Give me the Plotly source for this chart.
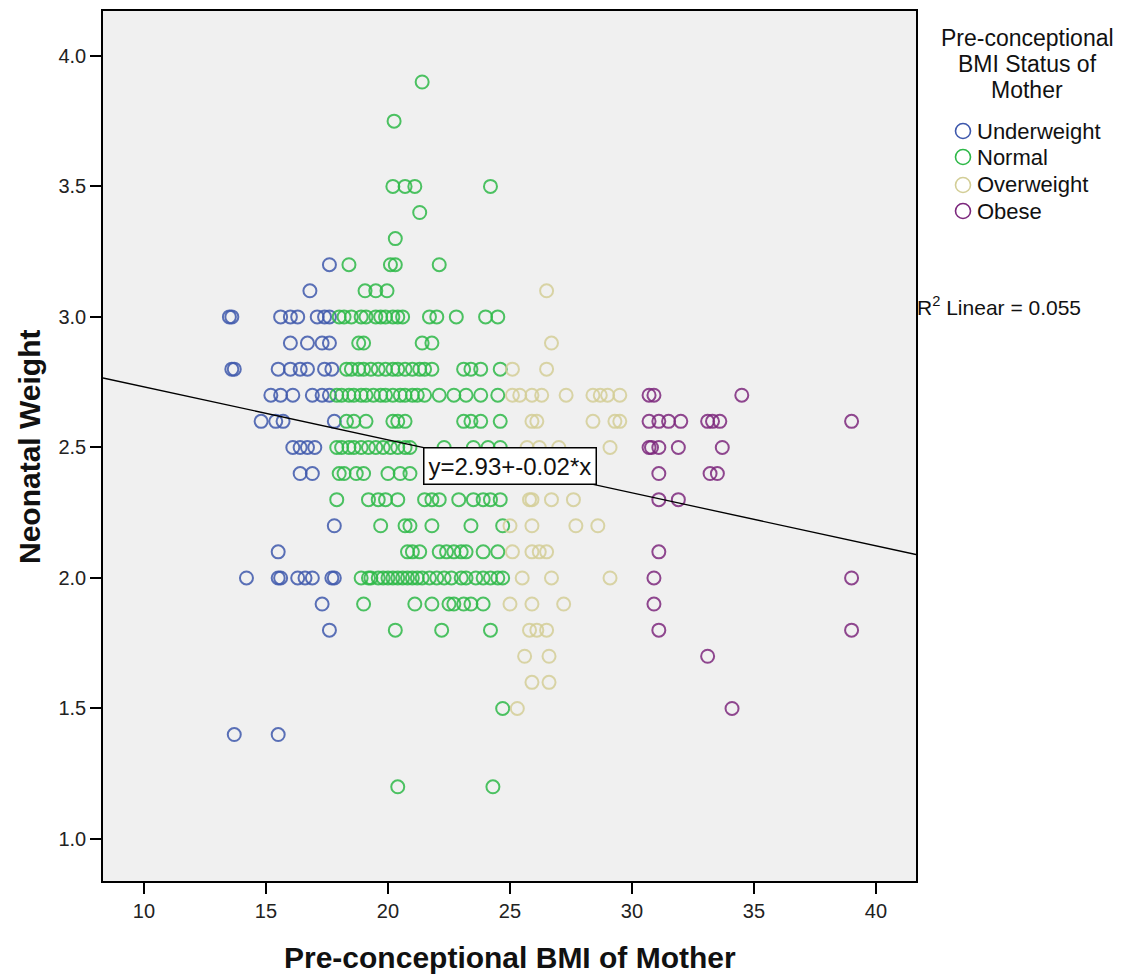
import plotly.graph_objects as go
import numpy as np

# ---- data ----
under_x = [17.6, 16.8,
           13.5, 13.6, 15.6, 16.0, 16.3, 17.1, 17.4, 17.6,
           16.0, 16.7, 17.3, 17.6,
           13.6, 13.7, 15.5, 16.0, 16.4, 16.7, 17.4, 17.7,
           15.2, 15.6, 16.1, 16.9, 17.3, 17.6,
           14.8, 15.4, 15.7, 17.8,
           16.1, 16.4, 16.7, 17.0,
           16.4, 16.9,
           17.8, 15.5,
           14.2, 15.5, 15.6, 16.3, 16.6, 16.9, 17.7, 17.8,
           17.3, 17.6, 13.7, 15.5]
under_y = [3.2, 3.1,
           3.0, 3.0, 3.0, 3.0, 3.0, 3.0, 3.0, 3.0,
           2.9, 2.9, 2.9, 2.9,
           2.8, 2.8, 2.8, 2.8, 2.8, 2.8, 2.8, 2.8,
           2.7, 2.7, 2.7, 2.7, 2.7, 2.7,
           2.6, 2.6, 2.6, 2.6,
           2.5, 2.5, 2.5, 2.5,
           2.4, 2.4,
           2.2, 2.1,
           2.0, 2.0, 2.0, 2.0, 2.0, 2.0, 2.0, 2.0,
           1.9, 1.8, 1.4, 1.4]

normal_x = [21.4, 20.25, 20.2, 20.7, 21.1, 24.2, 21.3, 20.3,
            18.4, 20.1, 20.3, 22.1,
            19.06, 19.5, 19.96,
            18.0, 18.2, 18.5, 18.9, 19.1, 19.5, 19.7, 19.9, 20.2, 20.4, 20.6, 21.7, 22.0, 22.8, 24.0, 24.5,
            18.8, 19.0, 21.4, 21.8,
            18.3, 18.5, 18.8, 19.0, 19.3, 19.6, 19.9, 20.2, 20.4, 20.7, 21.0, 21.3, 21.5, 21.8, 23.1, 23.4, 23.8, 24.6,
            17.9, 18.1, 18.4, 18.6, 18.9, 19.1, 19.4, 19.7, 19.9, 20.2, 20.5, 20.7, 21.0, 21.2, 21.5, 22.1, 22.7, 23.2, 23.8, 24.5,
            18.3, 18.6, 19.1, 20.2, 20.4, 20.7, 23.1, 23.4, 23.8, 24.6,
            17.9, 18.1, 18.4, 18.6, 18.9, 19.2, 19.5, 19.8, 20.1, 20.4, 20.7, 20.9, 22.3, 23.5, 24.1, 24.6,
            18.0, 18.2, 18.7, 19.0, 20.0, 20.5, 20.9,
            17.9, 19.2, 19.6, 19.9, 20.4, 21.5, 21.8, 22.1, 22.9, 23.5, 23.9, 24.2, 24.6,
            19.7, 20.7, 20.9, 21.8, 23.4, 24.7,
            20.8, 21.0, 21.3, 22.1, 22.4, 22.7, 23.0, 23.2, 23.9, 24.5,
            18.9, 19.2, 19.3, 19.6, 19.8, 20.0, 20.2, 20.4, 20.6, 20.8, 21.0, 21.2, 21.4, 21.7, 22.0, 22.3, 22.6, 23.0, 23.2, 23.6, 23.9, 24.2, 24.5, 24.7,
            19.0, 21.1, 21.8, 22.5, 22.7, 23.1, 23.4, 23.9,
            20.3, 22.2, 24.2,
            24.7, 20.4, 24.3]
normal_y = [3.9, 3.75, 3.5, 3.5, 3.5, 3.5, 3.4, 3.3,
            3.2, 3.2, 3.2, 3.2,
            3.1, 3.1, 3.1,
            3.0, 3.0, 3.0, 3.0, 3.0, 3.0, 3.0, 3.0, 3.0, 3.0, 3.0, 3.0, 3.0, 3.0, 3.0, 3.0,
            2.9, 2.9, 2.9, 2.9,
            2.8, 2.8, 2.8, 2.8, 2.8, 2.8, 2.8, 2.8, 2.8, 2.8, 2.8, 2.8, 2.8, 2.8, 2.8, 2.8, 2.8, 2.8,
            2.7, 2.7, 2.7, 2.7, 2.7, 2.7, 2.7, 2.7, 2.7, 2.7, 2.7, 2.7, 2.7, 2.7, 2.7, 2.7, 2.7, 2.7, 2.7, 2.7,
            2.6, 2.6, 2.6, 2.6, 2.6, 2.6, 2.6, 2.6, 2.6, 2.6,
            2.5, 2.5, 2.5, 2.5, 2.5, 2.5, 2.5, 2.5, 2.5, 2.5, 2.5, 2.5, 2.5, 2.5, 2.5, 2.5,
            2.4, 2.4, 2.4, 2.4, 2.4, 2.4, 2.4,
            2.3, 2.3, 2.3, 2.3, 2.3, 2.3, 2.3, 2.3, 2.3, 2.3, 2.3, 2.3, 2.3,
            2.2, 2.2, 2.2, 2.2, 2.2, 2.2,
            2.1, 2.1, 2.1, 2.1, 2.1, 2.1, 2.1, 2.1, 2.1, 2.1,
            2.0, 2.0, 2.0, 2.0, 2.0, 2.0, 2.0, 2.0, 2.0, 2.0, 2.0, 2.0, 2.0, 2.0, 2.0, 2.0, 2.0, 2.0, 2.0, 2.0, 2.0, 2.0, 2.0, 2.0,
            1.9, 1.9, 1.9, 1.9, 1.9, 1.9, 1.9, 1.9,
            1.8, 1.8, 1.8,
            1.5, 1.2, 1.2]

over_x = [26.5, 26.7, 25.1, 26.5,
          25.1, 25.4, 25.9, 26.3, 27.3, 28.4, 28.7, 29.0, 29.5,
          25.9, 26.1, 28.4, 29.3, 29.5,
          25.7, 26.2, 27.0, 29.1,
          25.8, 25.9, 26.7, 27.6,
          25.0, 25.9, 27.7, 28.6,
          25.1, 25.9, 26.2, 26.5,
          25.5, 26.7, 29.1,
          25.0, 25.9, 27.2,
          25.8, 26.1, 26.5,
          25.6, 26.6, 25.9, 26.6, 25.3]
over_y = [3.1, 2.9, 2.8, 2.8,
          2.7, 2.7, 2.7, 2.7, 2.7, 2.7, 2.7, 2.7, 2.7,
          2.6, 2.6, 2.6, 2.6, 2.6,
          2.5, 2.5, 2.5, 2.5,
          2.3, 2.3, 2.3, 2.3,
          2.2, 2.2, 2.2, 2.2,
          2.1, 2.1, 2.1, 2.1,
          2.0, 2.0, 2.0,
          1.9, 1.9, 1.9,
          1.8, 1.8, 1.8,
          1.7, 1.7, 1.6, 1.6, 1.5]

obese_x = [30.7, 30.9, 34.5,
           30.7, 31.1, 31.5, 32.0, 33.1, 33.3, 33.6,
           30.7, 30.8, 31.1, 31.9, 33.7,
           31.1, 33.2, 33.5,
           31.1, 31.9,
           31.1,
           30.9, 39.0,
           30.9,
           31.1, 39.0,
           33.1, 34.1, 39.0]
obese_y = [2.7, 2.7, 2.7,
           2.6, 2.6, 2.6, 2.6, 2.6, 2.6, 2.6,
           2.5, 2.5, 2.5, 2.5, 2.5,
           2.4, 2.4, 2.4,
           2.3, 2.3,
           2.1,
           2.0, 2.0,
           1.9,
           1.8, 1.8,
           1.7, 1.5, 2.6]

groups = ["Underweight", "Normal", "Overweight", "Obese"]
group_x = [under_x, normal_x, over_x, obese_x]
group_y = [under_y, normal_y, over_y, obese_y]
colors = ["#3E58AC", "#2EB848", "#D3CE97", "#7C287D"]

fit_intercept = 2.935
fit_slope = -0.0203
x_range = [8.32, 41.64]
y_range = [0.839, 4.172]
x_ticks = [10, 15, 20, 25, 30, 35, 40]
y_ticks = [1.0, 1.5, 2.0, 2.5, 3.0, 3.5, 4.0]
legend_title_lines = ["Pre-conceptional", "BMI Status of", "Mother"]

FONT = "Arial, Liberation Sans, sans-serif"
W, H = 1131, 977
ML, MR, MT, MB = 103, 215, 11, 96
PW, PH = W - ML - MR, H - MT - MB


def px_x(p):
    return (p - ML) / PW


def px_y(p):
    return (H - MB - p) / PH


fig = go.Figure()
for name, xs, ys, c in zip(groups, group_x, group_y, colors):
    fig.add_trace(go.Scatter(
        x=xs, y=ys, mode="markers", name=name, showlegend=False,
        marker=dict(symbol="circle-open", size=13, color=c,
                    line=dict(width=2, color=c), opacity=0.85),
    ))

lx = np.array(x_range)
fig.add_trace(go.Scatter(x=lx, y=fit_intercept + fit_slope * lx, mode="lines",
                         line=dict(color="black", width=1.3), showlegend=False,
                         hoverinfo="skip"))

fig.update_layout(
    width=W, height=H,
    margin=dict(l=ML, r=MR, t=MT, b=MB, autoexpand=False),
    paper_bgcolor="white", plot_bgcolor="#F0F0F0",
    font=dict(family=FONT, color="#222222"),
    showlegend=False,
    xaxis=dict(range=x_range, tickvals=x_ticks, ticks="outside", ticklen=11,
               tickwidth=1.5, tickcolor="black", showline=True, linecolor="black",
               linewidth=1.5, mirror=True, showgrid=False, zeroline=False,
               automargin=False,
               tickfont=dict(size=20, family=FONT, color="#222222")),
    yaxis=dict(range=y_range, tickvals=y_ticks, tickformat=".1f", ticks="outside",
               ticklen=11, tickwidth=1.5, tickcolor="black", showline=True,
               linecolor="black", linewidth=1.5, mirror=True, showgrid=False,
               zeroline=False, automargin=False,
               tickfont=dict(size=20, family=FONT, color="#222222")),
)

# axis titles
fig.add_annotation(x=px_x(510), y=px_y(957), xref="paper", yref="paper",
                   xanchor="center", yanchor="middle",
                   text="<b>Pre-conceptional BMI of Mother</b>", showarrow=False,
                   font=dict(size=30, family=FONT, color="#111111"))
fig.add_annotation(x=px_x(30), y=px_y(447), xref="paper", yref="paper",
                   xanchor="center", yanchor="middle",
                   text="<b>Neonatal Weight</b>", showarrow=False, textangle=-90,
                   font=dict(size=30, family=FONT, color="#111111"))

# legend title
for i, line in enumerate(legend_title_lines):
    fig.add_annotation(x=px_x(1027), y=px_y(38 + 26 * i), xref="paper", yref="paper",
                       xanchor="center", yanchor="middle",
                       text=line, showarrow=False,
                       font=dict(size=23, family=FONT, color="#111111"))

# legend entries (open circle + label)
legend_rows = [131, 157, 185, 211]
for name, c, ry in zip(groups, colors, legend_rows):
    fig.add_shape(type="circle", xref="paper", yref="paper",
                  xsizemode="pixel", ysizemode="pixel",
                  xanchor=px_x(963), yanchor=px_y(ry),
                  x0=-7.5, x1=7.5, y0=-7.5, y1=7.5,
                  line=dict(color=c, width=1.6), fillcolor="rgba(0,0,0,0)")
    fig.add_annotation(x=px_x(975), y=px_y(ry), xref="paper", yref="paper",
                       xanchor="left", yanchor="middle", text=name, showarrow=False,
                       font=dict(size=22, family=FONT, color="#111111"))

# regression label
fig.add_annotation(x=24.98, y=2.427, xref="x", yref="y",
                   text="y=2.93+-0.02*x", showarrow=False,
                   font=dict(size=24, family=FONT, color="#111111"),
                   bgcolor="white", bordercolor="black", borderwidth=1.5, borderpad=4)
fig.add_annotation(x=px_x(915), y=3.042, xref="paper", yref="y", xanchor="left",
                   text="R<sup>2</sup> Linear = 0.055", showarrow=False,
                   font=dict(size=21, family=FONT, color="#111111"))

fig.write_html("out.html", config={"displayModeBar": False},
               post_script="document.body.style.margin='0';")
